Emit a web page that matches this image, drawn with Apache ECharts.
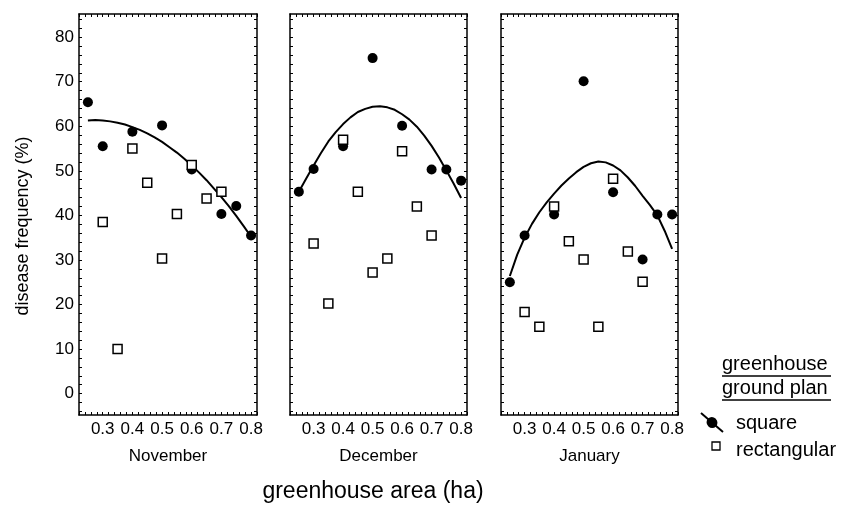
<!DOCTYPE html>
<html>
<head>
<meta charset="utf-8">
<script src="https://cdn.jsdelivr.net/npm/echarts@6/dist/echarts.min.js"></script>
<style>html,body{margin:0;padding:0;background:#fff;}#chart{width:841px;height:506px;}</style>
</head>
<body>
<div id="chart"></div>
<script>
// ---- data ----
const months = ['November', 'December', 'January'];
const xTickLabels = [0.3, 0.4, 0.5, 0.6, 0.7, 0.8];
const yTickLabels = [0, 10, 20, 30, 40, 50, 60, 70, 80];

const novSquare = [[0.25,65.4],[0.3,55.5],[0.4,58.8],[0.5,60.2],[0.6,50.3],[0.7,40.3],[0.75,42.1],[0.8,35.5]];
const novRect   = [[0.3,38.5],[0.35,10],[0.4,55],[0.45,47.3],[0.5,30.3],[0.55,40.3],[0.6,51.3],[0.65,43.8],[0.7,45.3]];
const novFitX   = [0.25,0.275,0.3,0.325,0.35,0.375,0.4,0.425,0.45,0.475,0.5,0.525,0.55,0.575,0.6,0.625,0.65,0.675,0.7,0.725,0.75,0.775,0.8];
const novFitY   = [61.3,61.4,61.3,61.1,60.8,60.4,59.8,59.2,58.4,57.5,56.5,55.3,54.1,52.7,51.2,49.6,47.9,46.0,44.1,42.1,39.9,37.6,35.2];

const decSquare = [[0.25,45.3],[0.3,50.4],[0.4,55.5],[0.5,75.3],[0.6,60.1],[0.7,50.3],[0.75,50.3],[0.8,47.8]];
const decRect   = [[0.3,33.7],[0.35,20.2],[0.4,57],[0.45,45.3],[0.5,27.2],[0.55,30.3],[0.6,54.4],[0.65,42],[0.7,35.5]];
const decFitX   = novFitX;
const decFitY   = [45.3,48.3,51.2,54.0,56.6,58.7,60.5,62.0,63.2,63.9,64.4,64.5,64.25,63.7,62.7,61.5,59.9,57.9,55.6,53.0,50.1,47.1,43.9];

const janSquare = [[0.25,25],[0.3,35.5],[0.4,40.2],[0.5,70.1],[0.6,45.2],[0.7,30.1],[0.75,40.2],[0.8,40.2]];
const janRect   = [[0.3,18.3],[0.35,15],[0.4,42],[0.45,34.2],[0.5,30.1],[0.55,15],[0.6,48.2],[0.65,31.9],[0.7,25.1]];
const janFitX   = novFitX;
const janFitY   = [26.4,31.2,35.0,38.1,40.7,42.9,44.9,46.7,48.3,49.7,50.9,51.7,52.1,51.9,51.2,50.1,48.5,46.6,44.4,42.3,40.0,36.5,32.5];

const squareSets = [novSquare, decSquare, janSquare];
const rectSets = [novRect, decRect, janRect];
const fitSets = [[novFitX, novFitY], [decFitX, decFitY], [janFitX, janFitY]];

// ---- layout ----
const FONT = '"Liberation Sans", Arial, Helvetica, sans-serif';
const gridLefts = [79, 290, 501];
const gridWidths = [178, 177, 177];
const X_MIN = 0.22, X_MAX = 0.82, Y_MIN = -4.8, Y_MAX = 85.2;

const xMinorTicks = [];
for (let k = 11; k <= 41; k++) xMinorTicks.push(Math.round(k * 2) / 100);
const yMinorTicks = [];
for (let k = -2; k <= 42; k++) yMinorTicks.push(k * 2);

const grids = [], xAxes = [], yAxes = [], series = [];
const axLine = {show: true, onZero: false, lineStyle: {color: '#000', width: 1.5}};

for (let i = 0; i < 3; i++) {
  grids.push({left: gridLefts[i], top: 14, width: gridWidths[i], height: 401, outerBoundsMode: 'none', containLabel: false});
  ['bottom', 'top'].forEach(function (pos) {
    xAxes.push({
      type: 'value', gridIndex: i, position: pos, min: X_MIN, max: X_MAX,
      axisLine: axLine,
      axisTick: {show: true, inside: true, length: 3, customValues: xMinorTicks, lineStyle: {color: '#000', width: 1}},
      axisLabel: {show: pos === 'bottom', customValues: xTickLabels, formatter: function (v) { return v.toFixed(1); },
                  margin: 6, fontSize: 17, color: '#000', fontFamily: FONT, hideOverlap: false},
      splitLine: {show: false},
      name: pos === 'bottom' ? months[i] : '',
      nameLocation: 'middle', nameGap: 33,
      nameTextStyle: {fontSize: 17, color: '#000', fontFamily: FONT}
    });
  });
  ['left', 'right'].forEach(function (pos) {
    yAxes.push({
      type: 'value', gridIndex: i, position: pos, min: Y_MIN, max: Y_MAX,
      axisLine: axLine,
      axisTick: {show: true, inside: true, length: 3, customValues: yMinorTicks, lineStyle: {color: '#000', width: 1}},
      axisLabel: {show: (i === 0 && pos === 'left'), customValues: yTickLabels, margin: 5, fontSize: 17, color: '#000', fontFamily: FONT},
      splitLine: {show: false}
    });
  });
  const fx = fitSets[i][0], fy = fitSets[i][1];
  series.push({
    name: 'square', type: 'scatter', xAxisIndex: i * 2, yAxisIndex: i * 2,
    data: squareSets[i], symbol: 'circle', symbolSize: 10, z: 2,
    itemStyle: {color: '#000', opacity: 1},
    emphasis: {disabled: true}
  });
  series.push({
    name: 'square fit', type: 'line', xAxisIndex: i * 2, yAxisIndex: i * 2,
    data: fx.map(function (x, j) { return [x, fy[j]]; }), showSymbol: false, smooth: false, z: 3,
    lineStyle: {color: '#000', width: 2, opacity: 1},
    emphasis: {disabled: true}
  });
  series.push({
    name: 'rectangular', type: 'scatter', xAxisIndex: i * 2, yAxisIndex: i * 2,
    data: rectSets[i], symbol: 'rect', symbolSize: 9, z: 4,
    itemStyle: {color: '#fff', borderColor: '#000', borderWidth: 1.5, opacity: 1},
    emphasis: {disabled: true}
  });
}

const chart = echarts.init(document.getElementById('chart'), null, {renderer: 'canvas'});
chart.setOption({
  animation: false,
  backgroundColor: '#fff',
  textStyle: {fontFamily: FONT},
  grid: grids, xAxis: xAxes, yAxis: yAxes, series: series,
  graphic: [
    {type: 'text', x: 23, y: 226, rotation: Math.PI / 2,
     style: {text: 'disease frequency (%)', fill: '#000', font: '18px ' + FONT, align: 'center', verticalAlign: 'middle'}},
    {type: 'text', x: 373, y: 492,
     style: {text: 'greenhouse area (ha)', fill: '#000', font: '23px ' + FONT, align: 'center', verticalAlign: 'middle'}},
    // legend
    {type: 'text', x: 722, y: 364, style: {text: 'greenhouse', fill: '#000', font: '20px ' + FONT, align: 'left', verticalAlign: 'middle'}},
    {type: 'line', shape: {x1: 722, y1: 376, x2: 831, y2: 376}, style: {stroke: '#000', lineWidth: 1.5}},
    {type: 'text', x: 722, y: 388, style: {text: 'ground plan', fill: '#000', font: '20px ' + FONT, align: 'left', verticalAlign: 'middle'}},
    {type: 'line', shape: {x1: 722, y1: 400, x2: 831, y2: 400}, style: {stroke: '#000', lineWidth: 1.5}},
    {type: 'line', shape: {x1: 701, y1: 413, x2: 723, y2: 432}, style: {stroke: '#000', lineWidth: 2}},
    {type: 'line', shape: {x1: 711.8, y1: 422.3, x2: 712.2, y2: 422.7}, style: {stroke: '#000', lineWidth: 10.5, lineCap: 'round'}},
    {type: 'text', x: 736, y: 423, style: {text: 'square', fill: '#000', font: '20px ' + FONT, align: 'left', verticalAlign: 'middle'}},
    {type: 'rect', shape: {x: 712, y: 442, width: 8, height: 8}, style: {fill: '#fff', stroke: '#000', lineWidth: 1.3}},
    {type: 'text', x: 736, y: 450, style: {text: 'rectangular', fill: '#000', font: '20px ' + FONT, align: 'left', verticalAlign: 'middle'}}
  ]
});
</script>
</body>
</html>
